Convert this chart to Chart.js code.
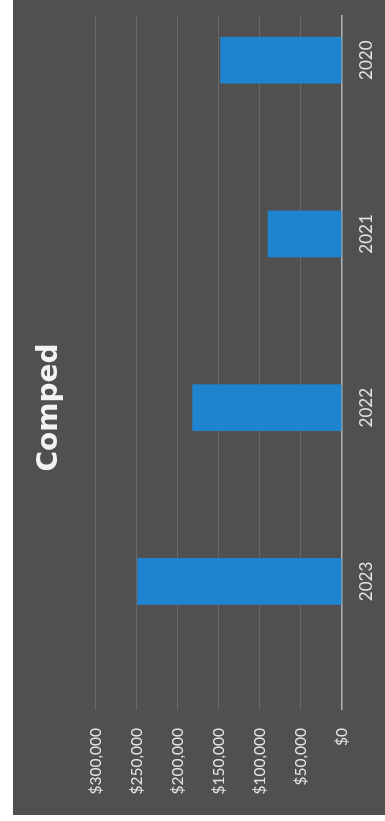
<!DOCTYPE html>
<html>
<head>
<meta charset="utf-8">
<script src="https://cdn.jsdelivr.net/npm/chart.js@4"></script>
<style>
  html, body { margin: 0; padding: 0; background: #fff; }
  body { width: 385px; height: 821px; overflow: hidden; position: relative; }
  /* the chart is drawn landscape, then turned a quarter left like the scan */
  #turn {
    position: absolute; left: 0; top: 0;
    width: 821px; height: 385px;
    transform-origin: 0 0;
    transform: translateY(821px) rotate(-90deg);
  }
  #box {
    position: absolute; left: 6px; top: 13px;
    width: 815px; height: 372px;
    background: #505050;
  }
</style>
</head>
<body>
<div id="turn"><div id="box"><canvas id="c"></canvas></div></div>
<script>
const years = ['2023', '2022', '2021', '2020']
const comped = [249000, 182000, 90000, 148000]
const moneyTicks = [0, 50000, 100000, 150000, 200000, 250000, 300000]
const title = 'Comped'

Chart.defaults.font.family = 'Lato'
Chart.defaults.font.size = 17
Chart.defaults.color = '#e4e4e4'

const points = years.map((y, i) => ({ x: i, y: comped[i] }))

new Chart(document.getElementById('c'), {
  type: 'bar',
  data: {
    datasets: [{
      label: title,
      data: points,
      backgroundColor: '#1e84d0',
      barThickness: 46
    }]
  },
  options: {
    responsive: true,
    maintainAspectRatio: false,
    animation: false,
    layout: { padding: { left: 15, right: 15, top: 0, bottom: 0 } },
    plugins: {
      legend: { display: false },
      tooltip: { enabled: false },
      title: {
        display: true,
        text: title,
        color: '#f2f2f2',
        font: { family: 'DejaVu Sans', size: 28, weight: 'bold', lineHeight: 1.1 },
        padding: { top: 21, bottom: 31 }
      }
    },
    scales: {
      x: {
        type: 'linear',
        offset: false,
        min: -0.74,
        max: 3.26,
        grid: { display: false, drawTicks: false },
        border: { display: false },
        afterBuildTicks: s => { s.ticks = years.map((_, i) => ({ value: i })) },
        afterFit: s => { s.height = 43 },
        ticks: {
          autoSkip: false,
          maxRotation: 0,
          padding: 14,
          callback: v => years[v]
        }
      },
      y: {
        min: 0,
        max: 300000,
        grid: {
          drawTicks: false,
          color: c => c.tick && c.tick.value === 0 ? '#b4b4b4' : '#686868',
          lineWidth: c => c.tick && c.tick.value === 0 ? 1.5 : 1
        },
        border: { display: false },
        afterBuildTicks: s => { s.ticks = moneyTicks.map(v => ({ value: v })) },
        afterFit: s => { s.width = 90 },
        ticks: {
          padding: 18,
          font: { size: 15.5 },
          callback: v => '$' + v.toLocaleString('en-US')
        }
      }
    }
  }
})
</script>
</body>
</html>
